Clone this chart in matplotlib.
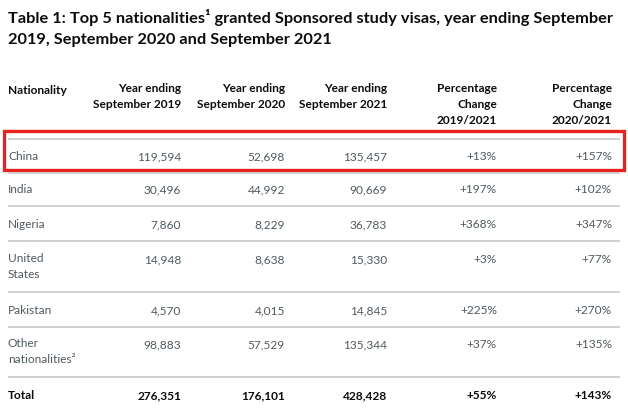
import matplotlib
matplotlib.use("Agg")
import matplotlib.pyplot as plt
from matplotlib.patches import Rectangle

title_line1 = "Table 1: Top 5 nationalities\u00b9 granted Sponsored study visas, year ending September"
title_line2 = "2019, September 2020 and September 2021"
headers = ["Nationality", "Year ending\nSeptember 2019", "Year ending\nSeptember 2020",
           "Year ending\nSeptember 2021", "Percentage\nChange\n2019/2021", "Percentage\nChange\n2020/2021"]
nationalities = ["China", "India", "Nigeria", "United\nStates", "Pakistan", "Other\nnationalities\u00b2", "Total"]
ye2019 = [119594, 30496, 7860, 14948, 4570, 98883, 276351]
ye2020 = [52698, 44992, 8229, 8638, 4015, 57529, 176101]
ye2021 = [135457, 90669, 36783, 15330, 14845, 135344, 428428]
pct_19_21 = [13, 197, 368, 3, 225, 37, 55]
pct_20_21 = [157, 102, 347, 77, 270, 135, 143]

FONT = "Lato"
W, H = 628, 410
fig = plt.figure(figsize=(W / 100, H / 100), dpi=100)
ax = fig.add_axes([0, 0, 1, 1])
ax.set_xlim(0, W)
ax.set_ylim(H, 0)
ax.axis("off")

dark = "#0b0c0c"
grey = "#505a5f"
rule = "#c8cacb"

ax.text(8, 18, title_line1, fontsize=11.8, fontweight="bold", color=dark, family=FONT, va="center", ha="left")
ax.text(8, 40, title_line2, fontsize=11.8, fontweight="bold", color=dark, family=FONT, va="center", ha="left")

col_x = [8, 181, 285, 387, 497, 612]
col_ha = ["left", "right", "right", "right", "right", "right"]
FS = 8.6


def put(x, y, s, ha, color, fw):
    if "\n" in s:
        ax.text(x, y - 6.5, s, fontsize=FS, fontweight=fw, color=color, family=FONT,
                ha=ha, va="top", linespacing=1.55, multialignment=ha)
    else:
        ax.text(x, y, s, fontsize=FS, fontweight=fw, color=color, family=FONT,
                ha=ha, va="center")


for x, ha, h in zip(col_x, col_ha, headers):
    put(x, 90, h, ha, dark, "bold")

rule_y = [140, 174, 207, 242, 293, 328, 378]
for y in rule_y:
    ax.plot([8, 620], [y, y], color=rule, lw=1.2, solid_capstyle="butt")

row_text_y = [157, 190, 225, 260, 311, 345, 396]
for i, name in enumerate(nationalities):
    bold = name == "Total"
    color = dark if bold else grey
    fw = "bold" if bold else "normal"
    vals = [name, f"{ye2019[i]:,}", f"{ye2020[i]:,}", f"{ye2021[i]:,}",
            f"+{pct_19_21[i]}%", f"+{pct_20_21[i]}%"]
    for x, ha, v in zip(col_x, col_ha, vals):
        put(x, row_text_y[i], v, ha, color, fw)

ax.add_patch(Rectangle((4, 132), 620, 39, fill=False, edgecolor="#e8231f", lw=2.4))

fig.savefig("out.png", dpi=100, facecolor="white")
